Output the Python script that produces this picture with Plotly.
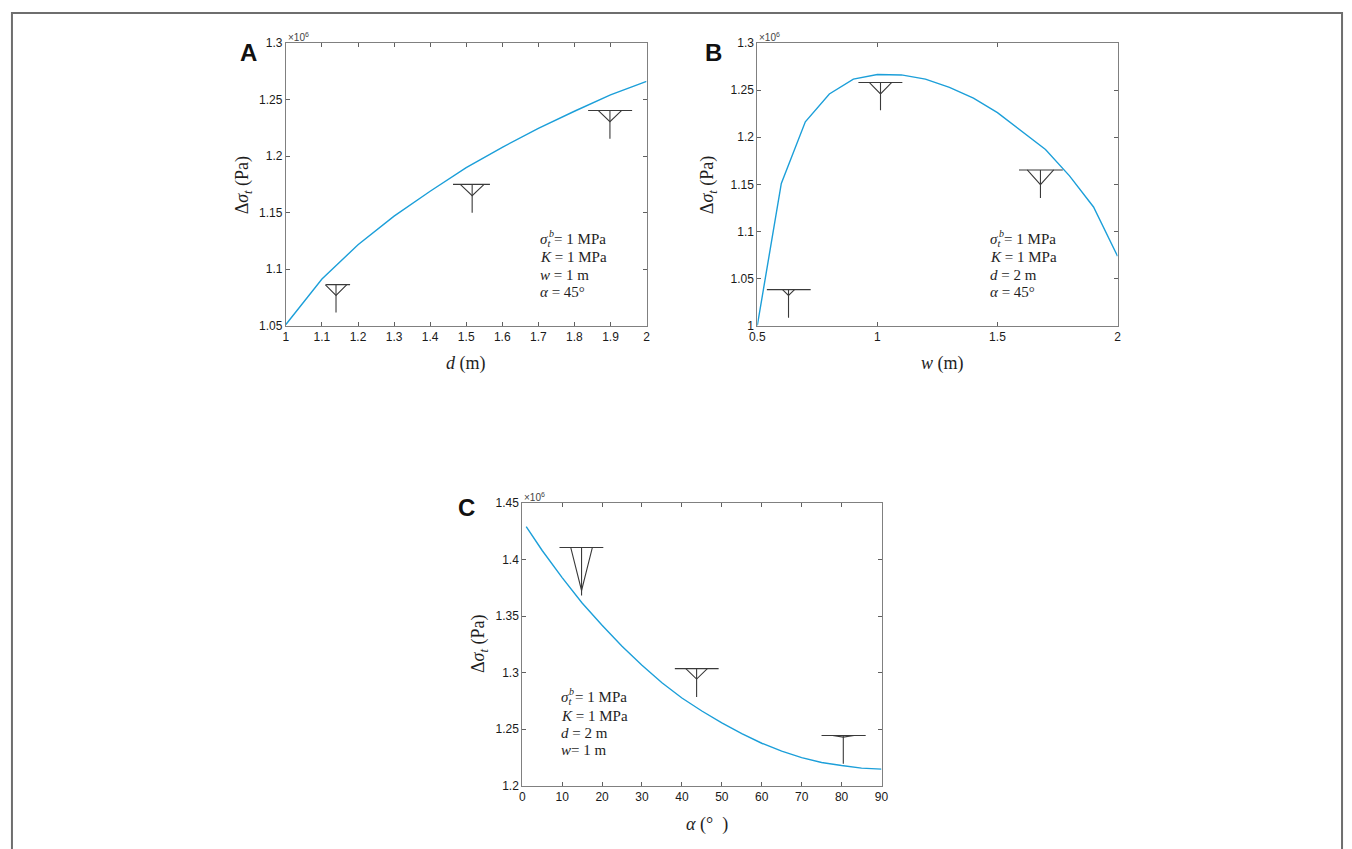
import plotly.graph_objects as go

# ---------------- data (values in units of 10^6 Pa) ----------------
a_d = [1.0, 1.1, 1.2, 1.3, 1.4, 1.5, 1.6, 1.7, 1.8, 1.9, 2.0]
a_val = [1.051, 1.0912, 1.1216, 1.1469, 1.1689, 1.1898, 1.2078, 1.2246, 1.2397, 1.2542, 1.2661]

b_w = [0.5, 0.6, 0.7, 0.8, 0.9, 1.0, 1.1, 1.2, 1.3, 1.4, 1.5, 1.6, 1.7, 1.8, 1.9, 2.0]
b_val = [1.0, 1.151, 1.2165, 1.246, 1.2617, 1.2666, 1.2662, 1.2617, 1.253, 1.2415,
         1.2262, 1.2067, 1.187, 1.159, 1.126, 1.0738]

c_alpha = [1, 5, 10, 15, 20, 25, 30, 35, 40, 45, 50, 55, 60, 65, 70, 75, 80, 85, 90]
c_val = [1.429, 1.408, 1.384, 1.3615, 1.3418, 1.3233, 1.3065, 1.291, 1.2775, 1.266,
         1.2555, 1.246, 1.2375, 1.2305, 1.2248, 1.2205, 1.2178, 1.2155, 1.2146]

# glyph markers (water-level style): stem x, top, V apex, stem bottom, line left/right, V half width
a_gx = [1.139, 1.5165, 1.8985]
a_gtop = [1.0863, 1.175, 1.2403]
a_gapex = [1.0767, 1.165, 1.2304]
a_gbot = [1.0616, 1.150, 1.2153]
a_gl = [1.1115, 1.4634, 1.838]
a_gr = [1.178, 1.5658, 1.960]
a_gv = [0.030, 0.033, 0.032]

b_gx = [0.630, 1.013, 1.679]
b_gtop = [1.0383, 1.2582, 1.1653]
b_gapex = [1.032, 1.246, 1.1497]
b_gbot = [1.0083, 1.2287, 1.1354]
b_gl = [0.5398, 0.921, 1.5896]
b_gr = [0.7223, 1.104, 1.772]
b_gv = [0.025, 0.047, 0.055]

c_gx = [14.86, 43.68, 80.43]
c_gtop = [1.4106, 1.3035, 1.2444]
c_gapex = [1.3726, 1.2943, 1.2429]
c_gbot = [1.3682, 1.2783, 1.2194]
c_gl = [9.33, 38.23, 74.98]
c_gr = [20.31, 49.2, 86.04]
c_gv = [2.7, 2.7, 2.7]

a_xticks = [1.0, 1.1, 1.2, 1.3, 1.4, 1.5, 1.6, 1.7, 1.8, 1.9, 2.0]
a_xlabels = ["1", "1.1", "1.2", "1.3", "1.4", "1.5", "1.6", "1.7", "1.8", "1.9", "2"]
a_yticks = [1.05, 1.1, 1.15, 1.2, 1.25, 1.3]
a_ylabels = ["1.05", "1.1", "1.15", "1.2", "1.25", "1.3"]
b_xticks = [0.5, 1.0, 1.5, 2.0]
b_xlabels = ["0.5", "1", "1.5", "2"]
b_yticks = [1.0, 1.05, 1.1, 1.15, 1.2, 1.25, 1.3]
b_ylabels = ["1", "1.05", "1.1", "1.15", "1.2", "1.25", "1.3"]
c_xticks = [0, 10, 20, 30, 40, 50, 60, 70, 80, 90]
c_xlabels = ["0", "10", "20", "30", "40", "50", "60", "70", "80", "90"]
c_yticks = [1.2, 1.25, 1.3, 1.35, 1.4, 1.45]
c_ylabels = ["1.2", "1.25", "1.3", "1.35", "1.4", "1.45"]

# ---------------- layout helpers ----------------
W, H = 1352, 849
def px(x):
    return x / W
def py(y):
    return 1 - y / H

CURVE = "#1c9fd9"
GLYPH = "#3a3a3a"
SERIF = "Liberation Serif"
SANS = "Liberation Sans"

fig = go.Figure()

def glyph_trace(gx, gtop, gapex, gbot, gl, gr, gv, xa, ya):
    xs, ys = [], []
    for x, t, ap, b, l, r, v in zip(gx, gtop, gapex, gbot, gl, gr, gv):
        xs += [l, r, None, x - v, x, x + v, None, x, x, None]
        ys += [t, t, None, t, ap, t, None, t, b, None]
    return go.Scatter(x=xs, y=ys, mode="lines", line=dict(color=GLYPH, width=1.1),
                      xaxis=xa, yaxis=ya, showlegend=False, hoverinfo="skip")

fig.add_trace(go.Scatter(x=a_d, y=a_val, mode="lines", line=dict(color=CURVE, width=1.4),
                         xaxis="x", yaxis="y", showlegend=False))
fig.add_trace(glyph_trace(a_gx, a_gtop, a_gapex, a_gbot, a_gl, a_gr, a_gv, "x", "y"))
fig.add_trace(go.Scatter(x=b_w, y=b_val, mode="lines", line=dict(color=CURVE, width=1.4),
                         xaxis="x2", yaxis="y2", showlegend=False))
fig.add_trace(glyph_trace(b_gx, b_gtop, b_gapex, b_gbot, b_gl, b_gr, b_gv, "x2", "y2"))
fig.add_trace(go.Scatter(x=c_alpha, y=c_val, mode="lines", line=dict(color=CURVE, width=1.4),
                         xaxis="x3", yaxis="y3", showlegend=False))
fig.add_trace(glyph_trace(c_gx, c_gtop, c_gapex, c_gbot, c_gl, c_gr, c_gv, "x3", "y3"))

tickfont = dict(family=SANS, size=12, color="#1a1a1a")

def axis(domain, rng, tickvals, ticktext, anchor):
    return dict(domain=domain, range=rng, tickvals=tickvals, ticktext=ticktext,
                showline=True, linecolor="#808080", linewidth=1, mirror="ticks",
                ticks="inside", ticklen=4, tickcolor="#606060", tickwidth=1,
                showgrid=False, zeroline=False, tickfont=tickfont, anchor=anchor,
                fixedrange=True)

fig.update_layout(
    width=W, height=H, margin=dict(l=0, r=0, t=0, b=0),
    paper_bgcolor="white", plot_bgcolor="white",
    xaxis=axis([px(281), px(645.7)], [1.0, 2.0], a_xticks, a_xlabels, "y"),
    yaxis=axis([py(324), py(36.7)], [1.05, 1.3], a_yticks, a_ylabels, "x"),
    xaxis2=axis([px(757.7), px(1122)], [0.5, 2.0], b_xticks, b_xlabels, "y2"),
    yaxis2=axis([py(324), py(36.7)], [1.0, 1.3], b_yticks, b_ylabels, "x2"),
    xaxis3=axis([px(520), px(883.3)], [0, 90], c_xticks, c_xlabels, "y3"),
    yaxis3=axis([py(791.7), py(504.3)], [1.2, 1.45], c_yticks, c_ylabels, "x3"),
)

ann = []
def text(x, y, s, size, family=SERIF, xanchor="center", yanchor="middle", color="#1e1e1e", angle=0):
    ann.append(dict(x=px(x), y=py(y), xref="paper", yref="paper", text=s, showarrow=False,
                    font=dict(family=family, size=size, color=color), xanchor=xanchor,
                    yanchor=yanchor, textangle=angle))

# panel letters
text(243, 46, "<b>A</b>", 24, SANS, color="#111")
text(713, 46, "<b>B</b>", 24, SANS, color="#111")
text(464, 509, "<b>C</b>", 24, SANS, color="#111")

# exponent labels
text(281, 31, "×10<sup>6</sup>", 10, SANS, xanchor="left", color="#444")
text(757.7, 31, "×10<sup>6</sup>", 10, SANS, xanchor="left", color="#444")
text(520, 498, "×10<sup>6</sup>", 10, SANS, xanchor="left", color="#444")

# axis titles
ylab = "Δ<i>σ</i><sub><i>t</i></sub> (Pa)"
text(463, 362, "<i>d</i> (m)", 18)
text(945, 362, "<i>w</i> (m)", 18)
text(707, 831, "<i>α</i> (°  )", 18)
text(238, 181, ylab, 18, angle=-90)
text(708, 181, ylab, 18, angle=-90)
text(477, 648, ylab, 18, angle=-90)

# parameter boxes
def params(x0, y0, lines):
    for i, s in enumerate(lines):
        text(x0, y0 + i * 17.6, s, 15, xanchor="left")

sig = "<i>σ</i><sub><i>t</i></sub> = 1 MPa"
params(536, 237, [sig, "<i>K</i> = 1 MPa", "<i>w</i> = 1 m", "<i>α</i> = 45°"])
params(991, 237, [sig, "<i>K</i> = 1 MPa", "<i>d</i> = 2 m", "<i>α</i> = 45°"])
params(556.7, 703, [sig, "<i>K</i> = 1 MPa", "<i>d</i> = 2 m", "<i>w</i>= 1 m"])
# superscript b over sigma
text(545, 230, "<i>b</i>", 10, xanchor="left")
text(1000, 230, "<i>b</i>", 10, xanchor="left")
text(565.7, 696, "<i>b</i>", 10, xanchor="left")

fig.update_layout(annotations=ann)

# outer frame (left/top/right edges; bottom edge outside the picture)
fig.add_shape(type="rect", xref="paper", yref="paper", x0=px(4), x1=px(1349),
              y0=-0.02, y1=py(6), line=dict(color="#6e6e6e", width=2))

fig.write_html("out.html", config={"displayModeBar": False},
               post_script="document.body.style.margin='0px';document.body.style.overflow='hidden';")
